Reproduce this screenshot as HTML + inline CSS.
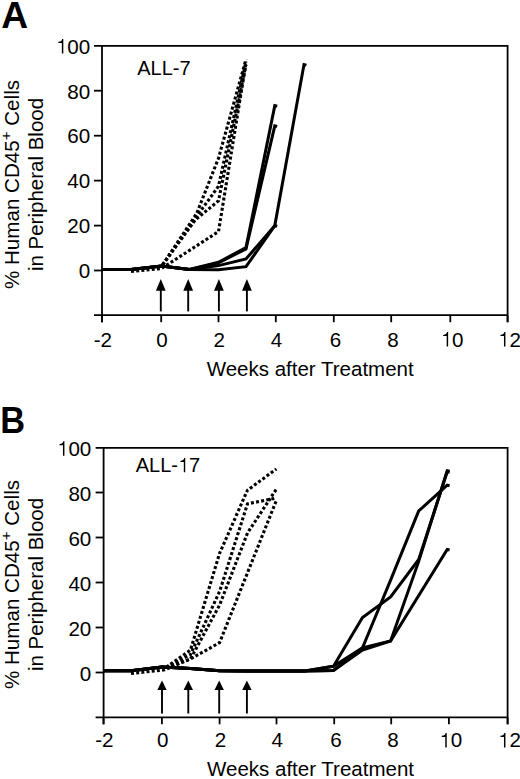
<!DOCTYPE html>
<html><head><meta charset="utf-8"><style>
html,body{margin:0;padding:0;background:#fff;}
svg{display:block;}
text{font-family:'Liberation Sans',sans-serif;fill:#000;}
</style></head><body>
<svg width="520" height="779" viewBox="0 0 520 779">
<rect width="520" height="779" fill="#fff"/>
<path d="M94.0 45.8H507.6V322.2" fill="none" stroke="#000" stroke-width="1.8"/>
<path d="M102.0 45.8V322.2M94.0 315.2H507.6" fill="none" stroke="#000" stroke-width="1.8"/>
<path d="M94.0 90.7H102.0" stroke="#000" stroke-width="1.8"/>
<path d="M94.0 135.7H102.0" stroke="#000" stroke-width="1.8"/>
<path d="M94.0 180.6H102.0" stroke="#000" stroke-width="1.8"/>
<path d="M94.0 225.6H102.0" stroke="#000" stroke-width="1.8"/>
<path d="M94.0 270.5H102.0" stroke="#000" stroke-width="1.8"/>
<path d="M102.0 315.2V322.2" stroke="#000" stroke-width="1.8"/>
<path d="M161.2 315.2V322.2" stroke="#000" stroke-width="1.8"/>
<path d="M218.5 315.2V322.2" stroke="#000" stroke-width="1.8"/>
<path d="M275.8 315.2V322.2" stroke="#000" stroke-width="1.8"/>
<path d="M333.8 315.2V322.2" stroke="#000" stroke-width="1.8"/>
<path d="M391.2 315.2V322.2" stroke="#000" stroke-width="1.8"/>
<path d="M450.3 315.2V322.2" stroke="#000" stroke-width="1.8"/>
<path d="M507.6 315.2V322.2" stroke="#000" stroke-width="1.8"/>
<text x="55.83" y="53.60" font-size="20.6"> 00</text><path transform="translate(55.83 53.60) scale(0.01006 -0.01006)" d="M745 0V1441H635C615 1300 510 1165 250 1150V1045H600V0Z"/>
<text x="67.29" y="98.54" font-size="20.6">80</text>
<text x="67.29" y="143.48" font-size="20.6">60</text>
<text x="67.29" y="188.42" font-size="20.6">40</text>
<text x="67.29" y="233.36" font-size="20.6">20</text>
<text x="78.74" y="278.30" font-size="20.6">0</text>
<text x="93.64" y="346.60" font-size="20.6">-2</text>
<text x="156.27" y="346.60" font-size="20.6">0</text>
<text x="213.57" y="346.60" font-size="20.6">2</text>
<text x="270.87" y="346.60" font-size="20.6">4</text>
<text x="329.87" y="346.60" font-size="20.6">6</text>
<text x="387.27" y="346.60" font-size="20.6">8</text>
<text x="440.64" y="346.60" font-size="20.6"> 0</text><path transform="translate(440.64 346.60) scale(0.01006 -0.01006)" d="M745 0V1441H635C615 1300 510 1165 250 1150V1045H600V0Z"/>
<text x="497.94" y="346.60" font-size="20.6"> 2</text><path transform="translate(497.94 346.60) scale(0.01006 -0.01006)" d="M745 0V1441H635C615 1300 510 1165 250 1150V1045H600V0Z"/>
<text x="206.7" y="376.0" font-size="20.5">Weeks after Treatment</text>
<text x="137.20" y="74.50" font-size="20">ALL-7</text>
<text transform="translate(1.20 28.30) scale(1.0 1)" font-size="37.2" font-weight="bold">A</text>
<text transform="translate(18.9 184.5) rotate(-90)" text-anchor="middle" font-size="20.6">% Human CD45<tspan font-size="15" dy="-7.5">+</tspan><tspan dy="7.5"> Cells</tspan></text>
<text transform="translate(43.4 184.5) rotate(-90)" text-anchor="middle" font-size="20.5">in Peripheral Blood</text>
<path d="M160.8 311.4V289.8" stroke="#000" stroke-width="1.9"/>
<path d="M155.9 290.8L160.8 278.9L165.7 290.8Z" fill="#000"/>
<path d="M188.2 311.4V289.8" stroke="#000" stroke-width="1.9"/>
<path d="M183.3 290.8L188.2 278.9L193.1 290.8Z" fill="#000"/>
<path d="M218.9 311.4V289.8" stroke="#000" stroke-width="1.9"/>
<path d="M214.0 290.8L218.9 278.9L223.8 290.8Z" fill="#000"/>
<path d="M246.9 311.4V289.8" stroke="#000" stroke-width="1.9"/>
<path d="M242.0 290.8L246.9 278.9L251.8 290.8Z" fill="#000"/>
<polyline points="102.0,269.4 131.0,269.4 161.5,266.0 189.5,269.4 218.5,262.2 246.0,247.6 274.8,105.6 277.2,106.2" fill="none" stroke="#000" stroke-width="3.0" stroke-linejoin="miter"/>
<polyline points="102.0,269.4 131.0,269.4 161.5,266.0 189.5,269.4 218.5,262.9 246.0,248.9 274.8,125.8 277.2,126.4" fill="none" stroke="#000" stroke-width="3.0" stroke-linejoin="miter"/>
<polyline points="102.0,269.4 131.0,269.4 161.5,266.0 189.5,269.4 218.5,265.6 246.0,259.0 274.8,225.6 277.2,226.2" fill="none" stroke="#000" stroke-width="3.0" stroke-linejoin="miter"/>
<polyline points="102.0,269.4 131.0,269.4 161.5,266.0 189.5,269.4 218.5,269.8 246.0,266.7 274.8,225.6 304.0,64.5 306.4,65.1" fill="none" stroke="#000" stroke-width="3.0" stroke-linejoin="miter"/>
<polyline points="131.0,271.5 161.5,268.5 218.5,231.6 246.0,62.7" fill="none" stroke="#000" stroke-width="3.1" stroke-dasharray="3 2.2"/>
<polyline points="162.6,264.9 195.3,219.9 218.5,200.8 246.0,64.9" fill="none" stroke="#000" stroke-width="3.1" stroke-dasharray="3 2.2"/>
<polyline points="162.6,264.9 198.2,214.3 218.5,186.2 246.0,61.5" fill="none" stroke="#000" stroke-width="3.1" stroke-dasharray="3 2.2"/>
<polyline points="162.6,264.9 196.8,213.2 218.5,158.2 246.0,59.3" fill="none" stroke="#000" stroke-width="3.1" stroke-dasharray="3 2.2"/>
<path d="M95.6 447.8H507.6V724.3" fill="none" stroke="#000" stroke-width="1.8"/>
<path d="M103.6 447.8V724.3M95.6 717.3H507.6" fill="none" stroke="#000" stroke-width="1.8"/>
<path d="M95.6 492.5H103.6" stroke="#000" stroke-width="1.8"/>
<path d="M95.6 537.5H103.6" stroke="#000" stroke-width="1.8"/>
<path d="M95.6 582.5H103.6" stroke="#000" stroke-width="1.8"/>
<path d="M95.6 627.5H103.6" stroke="#000" stroke-width="1.8"/>
<path d="M95.6 672.5H103.6" stroke="#000" stroke-width="1.8"/>
<path d="M103.5 717.3V724.3" stroke="#000" stroke-width="1.8"/>
<path d="M161.9 717.3V724.3" stroke="#000" stroke-width="1.8"/>
<path d="M219.6 717.3V724.3" stroke="#000" stroke-width="1.8"/>
<path d="M276.5 717.3V724.3" stroke="#000" stroke-width="1.8"/>
<path d="M334.2 717.3V724.3" stroke="#000" stroke-width="1.8"/>
<path d="M391.2 717.3V724.3" stroke="#000" stroke-width="1.8"/>
<path d="M448.9 717.3V724.3" stroke="#000" stroke-width="1.8"/>
<path d="M507.6 717.3V724.3" stroke="#000" stroke-width="1.8"/>
<text x="56.93" y="455.80" font-size="20.6"> 00</text><path transform="translate(56.93 455.80) scale(0.01006 -0.01006)" d="M745 0V1441H635C615 1300 510 1165 250 1150V1045H600V0Z"/>
<text x="68.39" y="500.80" font-size="20.6">80</text>
<text x="68.39" y="545.80" font-size="20.6">60</text>
<text x="68.39" y="590.80" font-size="20.6">40</text>
<text x="68.39" y="635.80" font-size="20.6">20</text>
<text x="79.84" y="680.80" font-size="20.6">0</text>
<text x="95.14" y="747.40" font-size="20.6">-2</text>
<text x="156.97" y="747.40" font-size="20.6">0</text>
<text x="214.67" y="747.40" font-size="20.6">2</text>
<text x="271.57" y="747.40" font-size="20.6">4</text>
<text x="330.27" y="747.40" font-size="20.6">6</text>
<text x="387.27" y="747.40" font-size="20.6">8</text>
<text x="439.24" y="747.40" font-size="20.6"> 0</text><path transform="translate(439.24 747.40) scale(0.01006 -0.01006)" d="M745 0V1441H635C615 1300 510 1165 250 1150V1045H600V0Z"/>
<text x="497.94" y="747.40" font-size="20.6"> 2</text><path transform="translate(497.94 747.40) scale(0.01006 -0.01006)" d="M745 0V1441H635C615 1300 510 1165 250 1150V1045H600V0Z"/>
<text x="207.0" y="776.3" font-size="20.5">Weeks after Treatment</text>
<text x="135.70" y="472.20" font-size="20">ALL- 7</text><path transform="translate(177.95 472.20) scale(0.00977 -0.00977)" d="M745 0V1441H635C615 1300 510 1165 250 1150V1045H600V0Z"/>
<text transform="translate(0.30 432.80) scale(0.925 1)" font-size="37.2" font-weight="bold">B</text>
<text transform="translate(18.9 584.5) rotate(-90)" text-anchor="middle" font-size="20.6">% Human CD45<tspan font-size="15" dy="-7.5">+</tspan><tspan dy="7.5"> Cells</tspan></text>
<text transform="translate(43.4 584.5) rotate(-90)" text-anchor="middle" font-size="20.5">in Peripheral Blood</text>
<path d="M162.0 713.5V688.9" stroke="#000" stroke-width="1.9"/>
<path d="M157.3 689.9L162.0 680.4L166.7 689.9Z" fill="#000"/>
<path d="M188.3 713.5V688.9" stroke="#000" stroke-width="1.9"/>
<path d="M183.6 689.9L188.3 680.4L193.0 689.9Z" fill="#000"/>
<path d="M219.2 713.5V688.9" stroke="#000" stroke-width="1.9"/>
<path d="M214.5 689.9L219.2 680.4L223.9 689.9Z" fill="#000"/>
<path d="M246.9 713.5V688.9" stroke="#000" stroke-width="1.9"/>
<path d="M242.2 689.9L246.9 680.4L251.6 689.9Z" fill="#000"/>
<polyline points="103.5,670.7 131.0,670.7 161.9,667.1 190.5,668.5 219.6,670.7 247.5,670.9 276.4,670.9 305.0,670.9 333.5,666.2 362.5,617.6 390.6,596.9 418.7,559.5 447.2,471.8 449.6,472.4" fill="none" stroke="#000" stroke-width="3.0" stroke-linejoin="miter"/>
<polyline points="103.5,670.7 131.0,670.7 161.9,667.1 190.5,668.5 219.6,670.7 247.5,670.9 276.4,670.9 305.0,670.9 333.5,666.2 362.5,647.8 390.6,580.2 418.7,511.0 447.2,485.1 449.6,485.7" fill="none" stroke="#000" stroke-width="3.0" stroke-linejoin="miter"/>
<polyline points="103.5,670.7 131.0,670.7 161.9,667.1 190.5,668.5 219.6,670.7 247.5,670.9 276.4,670.9 305.0,670.9 333.5,670.5 362.5,647.8 390.6,641.0 418.7,561.4 447.2,470.7 449.6,471.3" fill="none" stroke="#000" stroke-width="3.0" stroke-linejoin="miter"/>
<polyline points="103.5,670.7 131.0,670.7 161.9,667.1 190.5,668.5 219.6,670.7 247.5,670.9 276.4,670.9 305.0,670.9 333.5,670.5 362.5,650.0 390.6,641.0 447.2,549.4 449.6,550.0" fill="none" stroke="#000" stroke-width="3.0" stroke-linejoin="miter"/>
<polyline points="166.2,667.3 190.5,650.0 219.6,553.2 247.5,490.2 276.4,468.9" fill="none" stroke="#000" stroke-width="3.1" stroke-dasharray="3 2.2"/>
<polyline points="166.2,667.3 190.5,654.5 219.6,591.5 247.5,503.8 276.4,498.1" fill="none" stroke="#000" stroke-width="3.1" stroke-dasharray="3 2.2"/>
<polyline points="166.2,667.3 190.5,659.0 219.6,605.0 247.5,533.0 276.4,489.1" fill="none" stroke="#000" stroke-width="3.1" stroke-dasharray="3 2.2"/>
<polyline points="131.0,673.5 164.8,669.8 190.5,659.0 219.6,642.6 276.4,500.4" fill="none" stroke="#000" stroke-width="3.1" stroke-dasharray="3 2.2"/>
</svg>
</body></html>
